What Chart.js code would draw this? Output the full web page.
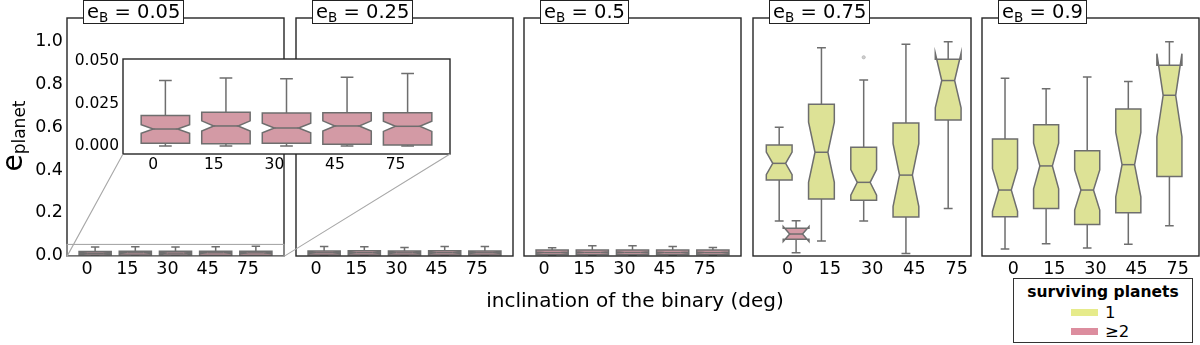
<!DOCTYPE html>
<html><head><meta charset="utf-8">
<script src="https://cdn.jsdelivr.net/npm/chart.js@4"></script>
<style>
html,body{margin:0;padding:0;background:#fff;}
#wrap{position:relative;width:1200px;height:345px;overflow:hidden;font-family:"DejaVu Sans",sans-serif;color:#000;}
canvas{position:absolute;left:0;top:0;}
.ttl{position:absolute;top:0;height:24px;border:1.5px solid #222;background:#fff;font-size:19.5px;line-height:21px;padding:0 3px;white-space:nowrap;box-sizing:border-box;}
.ttl sub{font-size:13.5px;vertical-align:-4px;line-height:0;}
#ytitle{position:absolute;left:-37px;top:121px;width:100px;height:30px;line-height:30px;text-align:center;font-size:28px;transform:rotate(-90deg);white-space:nowrap;}
#ytitle sub{font-size:17px;vertical-align:-3px;line-height:0;}
#xtitle{position:absolute;left:335px;width:600px;top:288px;line-height:24px;text-align:center;font-size:20px;white-space:nowrap;}
#legend{position:absolute;left:1013px;top:278px;width:180px;height:65px;border:1.5px solid #333;box-sizing:border-box;background:#fff;}
#legend .lt{position:absolute;left:0;width:100%;top:3px;text-align:center;font-weight:bold;font-size:15.5px;line-height:20px;}
#legend .it{position:absolute;left:57px;height:20px;line-height:20px;font-size:16.5px;}
#legend .sw{display:inline-block;width:27px;height:7px;vertical-align:middle;margin-right:7px;position:relative;top:-1px;}
</style></head>
<body>
<div id="wrap"></div>
<script>
// ---------------- DATA ----------------
const categories = ['0', '15', '30', '45', '75'];
const panelTitles = ['0.05', '0.25', '0.5', '0.75', '0.9'];
const yTicksMain = [0, 0.2, 0.4, 0.6, 0.8, 1.0];
const yTicksInset = [0, 0.025, 0.05];
const legendLabels = ['1', '\u22652'];
// each row: [low whisker, Q1, notch low, median, notch high, Q3, high whisker]
const eB005_multi = [
  [0.0, 0.0016, 0.0075, 0.0100, 0.0125, 0.0180, 0.0386],
  [0.0, 0.0014, 0.0088, 0.0118, 0.0148, 0.0198, 0.0400],
  [0.0, 0.0016, 0.0078, 0.0106, 0.0134, 0.0194, 0.0396],
  [0.0, 0.0010, 0.0088, 0.0118, 0.0148, 0.0196, 0.0404],
  [0.0, 0.0006, 0.0086, 0.0116, 0.0146, 0.0196, 0.0426]
];
const eB025_multi = [
  [0.0, 0.0020, 0.0090, 0.0120, 0.0150, 0.0210, 0.0415],
  [0.0, 0.0020, 0.0092, 0.0122, 0.0152, 0.0212, 0.0400],
  [0.0, 0.0020, 0.0088, 0.0118, 0.0148, 0.0208, 0.0370],
  [0.0, 0.0020, 0.0092, 0.0122, 0.0152, 0.0212, 0.0418],
  [0.0, 0.0020, 0.0090, 0.0120, 0.0150, 0.0210, 0.0415]
];
const eB05_multi = [
  [0.0, 0.0030, 0.0100, 0.0130, 0.0160, 0.0250, 0.0360],
  [0.0, 0.0030, 0.0105, 0.0135, 0.0165, 0.0250, 0.0450],
  [0.0, 0.0030, 0.0105, 0.0135, 0.0165, 0.0250, 0.0450],
  [0.0, 0.0030, 0.0100, 0.0130, 0.0160, 0.0250, 0.0420],
  [0.0, 0.0030, 0.0100, 0.0130, 0.0160, 0.0250, 0.0370]
];
const eB075_single = [
  [0.161, 0.353, 0.378, 0.431, 0.484, 0.517, 0.600],
  [0.067, 0.264, 0.342, 0.483, 0.624, 0.708, 0.973],
  [0.161, 0.258, 0.282, 0.342, 0.402, 0.506, 0.822],
  [0.009, 0.180, 0.229, 0.376, 0.523, 0.620, 0.989],
  [0.220, 0.634, 0.691, 0.819, 0.947, 0.919, 1.001]
];
const eB075_multi = [
  [0.012, 0.075, 0.065, 0.100, 0.135, 0.127, 0.162],
  null, null, null, null
];
const eB075_single_fliers = [[2, 0.928]];   // [category index, value]
const eB09_single = [
  [0.030, 0.181, 0.206, 0.306, 0.406, 0.545, 0.830],
  [0.054, 0.220, 0.312, 0.419, 0.526, 0.612, 0.781],
  [0.034, 0.145, 0.212, 0.306, 0.400, 0.490, 0.836],
  [0.052, 0.200, 0.274, 0.425, 0.576, 0.686, 0.814],
  [0.139, 0.370, 0.555, 0.750, 0.945, 0.891, 1.001]
];

// ---------------- STYLE / LAYOUT ----------------
const FONT = '"DejaVu Sans", sans-serif';
const COL_SINGLE = '#dde296';
const COL_MULTI = '#d39aa5';
const LEG_SINGLE = '#e6eb8b';
const LEG_MULTI = '#dc8d9e';
const EDGE = '#6e6e6e';
const FRAME = '#262626';
const W = 1200, H = 345;

const panels = [
  {left: 67,  right: 284,  xmin: -0.5,  xmax: 4.9,  bw: 0.8,  groups: [{rows: eB005_multi, off: 0.2, fill: COL_MULTI}], showY: true},
  {left: 296, right: 513,  xmin: -0.5,  xmax: 4.9,  bw: 0.8,  groups: [{rows: eB025_multi, off: 0.2, fill: COL_MULTI}]},
  {left: 524, right: 741,  xmin: -0.5,  xmax: 4.9,  bw: 0.8,  groups: [{rows: eB05_multi, off: 0.2, fill: COL_MULTI}]},
  {left: 753, right: 971,  xmin: -0.82, xmax: 4.34, bw: 0.61, groups: [{rows: eB075_single, off: -0.2, fill: COL_SINGLE, fliers: eB075_single_fliers}, {rows: eB075_multi, off: 0.2, fill: COL_MULTI}]},
  {left: 982, right: 1199, xmin: -0.76, xmax: 4.52, bw: 0.61, groups: [{rows: eB09_single, off: -0.2, fill: COL_SINGLE}]}
];
const TOP = 18, BOTTOM = 256, XH = 40;
const YMIN = -0.003, YMAX = 1.112;
const CAPW = 0.21;

const wrap = document.getElementById('wrap');
function newCanvas() {
  const c = document.createElement('canvas');
  c.width = W; c.height = H; c.style.width = W + 'px'; c.style.height = H + 'px';
  wrap.appendChild(c);
  return c;
}

function drawBox(ctx, xs, ys, pos, w, r, fill) {
  const [lo, q1, nl, md, nh, q3, hi] = r;
  const X = v => xs.getPixelForValue(v), Y = v => ys.getPixelForValue(v);
  const xl = X(pos - w / 2), xr = X(pos + w / 2), xil = X(pos - w / 4), xir = X(pos + w / 4);
  const xc = X(pos), cl = X(pos - CAPW / 2), cr = X(pos + CAPW / 2);
  ctx.strokeStyle = EDGE; ctx.lineWidth = 1.5; ctx.lineJoin = 'miter';
  ctx.beginPath();
  ctx.moveTo(xc, Y(q1)); ctx.lineTo(xc, Y(lo));
  ctx.moveTo(cl, Y(lo)); ctx.lineTo(cr, Y(lo));
  ctx.moveTo(xc, Y(q3)); ctx.lineTo(xc, Y(hi));
  ctx.moveTo(cl, Y(hi)); ctx.lineTo(cr, Y(hi));
  ctx.stroke();
  ctx.beginPath();
  ctx.moveTo(xl, Y(q1)); ctx.lineTo(xr, Y(q1)); ctx.lineTo(xr, Y(nl)); ctx.lineTo(xir, Y(md));
  ctx.lineTo(xr, Y(nh)); ctx.lineTo(xr, Y(q3)); ctx.lineTo(xl, Y(q3)); ctx.lineTo(xl, Y(nh));
  ctx.lineTo(xil, Y(md)); ctx.lineTo(xl, Y(nl)); ctx.closePath();
  ctx.fillStyle = fill; ctx.fill(); ctx.stroke();
  ctx.beginPath(); ctx.moveTo(xil, Y(md)); ctx.lineTo(xir, Y(md)); ctx.stroke();
}

function boxPlugin(groups, bw, opts) {
  return {
    id: 'boxes',
    beforeDraw(chart) {
      if (opts.bg) {
        const a = chart.chartArea, ctx = chart.ctx;
        ctx.save(); ctx.fillStyle = '#fff';
        ctx.fillRect(a.left, a.top, a.right - a.left, a.bottom - a.top);
        ctx.restore();
      }
    },
    afterDraw(chart) {
      const {ctx, chartArea: a, scales: {x, y}} = chart;
      ctx.save();
      ctx.beginPath(); ctx.rect(a.left, a.top, a.right - a.left, a.bottom - a.top); ctx.clip();
      groups.forEach(g => {
        g.rows.forEach((r, i) => { if (r) drawBox(ctx, x, y, i + g.off, bw, r, g.fill); });
        (g.fliers || []).forEach(([i, v]) => {
          ctx.beginPath();
          ctx.arc(x.getPixelForValue(i + g.off), y.getPixelForValue(v), 1.6, 0, Math.PI * 2);
          ctx.fillStyle = '#cfcfcf'; ctx.fill();
          ctx.strokeStyle = '#b5b5b5'; ctx.lineWidth = 0.8; ctx.stroke();
        });
      });
      ctx.restore();
      ctx.save();
      ctx.strokeStyle = FRAME; ctx.lineWidth = 1.4;
      ctx.strokeRect(a.left, a.top, a.right - a.left, a.bottom - a.top);
      ctx.restore();
      if (opts.over) opts.over(chart);
    }
  };
}

function makeChart(canvas, c) {
  return new Chart(canvas, {
    type: 'scatter',
    data: {datasets: []},
    options: {
      responsive: false, animation: false, devicePixelRatio: 1, events: [],
      layout: {padding: {left: c.padL, right: W - c.right, top: c.top, bottom: H - c.bottom - c.xH}},
      plugins: {legend: {display: false}, tooltip: {enabled: false}},
      scales: {
        x: {
          type: 'linear', min: c.xmin, max: c.xmax,
          grid: {display: false, drawTicks: false}, border: {display: false},
          afterBuildTicks: s => { s.ticks = categories.map((_, i) => ({value: i})); },
          afterFit: s => { s.height = c.xH; },
          ticks: {autoSkip: false, maxRotation: 0, padding: c.xPad, color: '#000',
                  font: {family: FONT, size: c.xFont}, callback: v => categories[v]}
        },
        y: {
          type: 'linear', min: c.ymin, max: c.ymax, display: !!c.showY,
          grid: {display: false, drawTicks: false}, border: {display: false},
          afterBuildTicks: s => { s.ticks = c.yTicks.map(v => ({value: v})); },
          afterFit: s => { s.width = c.showY ? c.yW : 0; },
          ticks: {padding: 4, color: '#000', font: {family: FONT, size: c.yFont},
                  callback: v => v.toFixed(c.yDec)}
        }
      }
    },
    plugins: [boxPlugin(c.groups, c.bw, c.extra || {})]
  });
}

const charts = panels.map(p => makeChart(newCanvas(), {
  padL: p.showY ? p.left - 67 : p.left, yW: 67, right: p.right, top: TOP, bottom: BOTTOM, xH: XH,
  xmin: p.xmin, xmax: p.xmax, ymin: YMIN, ymax: YMAX, showY: p.showY, yTicks: yTicksMain, yDec: 1,
  xPad: 3, xFont: 17.5, yFont: 17.5, groups: p.groups, bw: p.bw
}));

// inset zoom of panel 1
const INSET = {left: 123, right: 450, top: 59, bottom: 154, xmin: -0.5, xmax: 4.9, ymin: -0.0047, ymax: 0.0512};
const p1 = charts[0];
(function () {
  const xs = p1.scales.x, ys = p1.scales.y, c = p1.ctx;
  c.save(); c.strokeStyle = '#a8a8a8'; c.lineWidth = 1.1;
  const x1 = xs.getPixelForValue(INSET.xmin), x2 = xs.getPixelForValue(INSET.xmax);
  const y1 = ys.getPixelForValue(INSET.ymax), y2 = ys.getPixelForValue(INSET.ymin);
  c.strokeRect(x1, y1, x2 - x1, y2 - y1);
  c.restore();
})();

makeChart(newCanvas(), {
  padL: INSET.left - 62, yW: 62, right: INSET.right, top: INSET.top, bottom: INSET.bottom, xH: 26,
  xmin: INSET.xmin, xmax: INSET.xmax, ymin: INSET.ymin, ymax: INSET.ymax, showY: true,
  yTicks: yTicksInset, yDec: 3, xPad: 2, xFont: 15.5, yFont: 15.5,
  groups: [{rows: eB005_multi, off: 0.2, fill: COL_MULTI}], bw: 0.8,
  extra: {
    bg: true,
    over: chart => {
      const ctx = chart.ctx, a = chart.chartArea;
      const xs = p1.scales.x, ys = p1.scales.y;
      const rl = xs.getPixelForValue(INSET.xmin), rr = xs.getPixelForValue(INSET.xmax);
      const rb = ys.getPixelForValue(INSET.ymin);
      ctx.save(); ctx.strokeStyle = '#a8a8a8'; ctx.lineWidth = 1.1;
      ctx.beginPath();
      ctx.moveTo(rl, rb); ctx.lineTo(a.left, a.bottom);
      ctx.moveTo(rr, rb); ctx.lineTo(a.right, a.bottom);
      ctx.stroke(); ctx.restore();
    }
  }
});

// panel titles
panels.forEach((p, i) => {
  const d = document.createElement('div');
  d.className = 'ttl';
  d.style.left = (p.left + 16) + 'px';
  d.innerHTML = 'e<sub>B</sub> = ' + panelTitles[i];
  wrap.appendChild(d);
});
// axis titles
const yt = document.createElement('div'); yt.id = 'ytitle'; yt.innerHTML = 'e<sub>planet</sub>'; wrap.appendChild(yt);
const xt = document.createElement('div'); xt.id = 'xtitle'; xt.textContent = 'inclination of the binary (deg)'; wrap.appendChild(xt);
// legend
const lg = document.createElement('div'); lg.id = 'legend';
lg.innerHTML = '<div class="lt">surviving planets</div>' +
  '<div class="it" style="top:24px"><span class="sw" style="background:' + LEG_SINGLE + '"></span>' + legendLabels[0] + '</div>' +
  '<div class="it" style="top:43px"><span class="sw" style="background:' + LEG_MULTI + '"></span>' + legendLabels[1] + '</div>';
wrap.appendChild(lg);
</script>
</body></html>
